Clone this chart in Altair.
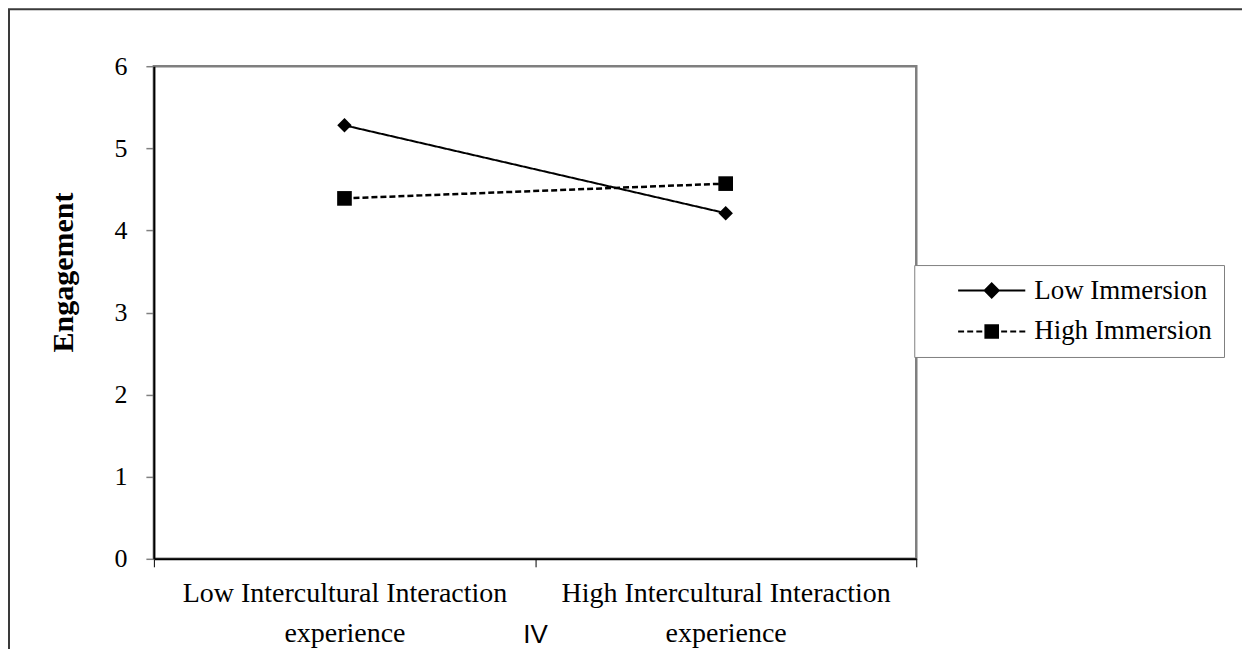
import altair as alt
import pandas as pd

# ---- data ----
conditions = ["Low Intercultural Interaction\nexperience",
              "High Intercultural Interaction\nexperience"]
series = ["Low Immersion", "High Immersion"]
low_immersion = [5.28, 4.21]
high_immersion = [4.39, 4.57]
y_ticks = [0, 1, 2, 3, 4, 5, 6]
boundary_ticks = [0, 1, 2]

rows = []
for i, c in enumerate(conditions):
    rows.append({"cond": c, "series": series[0], "value": low_immersion[i]})
    rows.append({"cond": c, "series": series[1], "value": high_immersion[i]})
df = pd.DataFrame(rows)

SERIF = "Liberation Serif"
SANS = "Liberation Sans"

x_cat = alt.X(
    "cond:N",
    sort=conditions,
    scale=alt.Scale(type="point", padding=0.5),
    axis=alt.Axis(
        orient="bottom",
        title="IV",
        titleFont=SANS, titleFontSize=26, titleFontWeight="normal", titleColor="black",
        titleX=381.5, titleY=84, titleBaseline="alphabetic", titleAlign="center",
        labelExpr="split(datum.label, '\\n')",
        labelFont=SERIF, labelFontSize=28, labelColor="black",
        labelLineHeight=40, labelPadding=21, labelAngle=0, labelLimit=1000,
        tickSize=0, ticks=False,
        domain=True, domainColor="black", domainWidth=2,
        grid=False, labelOverlap=False,
    ),
)
y_val = alt.Y(
    "value:Q",
    scale=alt.Scale(domain=[0, 6], nice=False, zero=True),
    axis=alt.Axis(
        values=y_ticks, format="d",
        title="Engagement",
        titleFont=SERIF, titleFontSize=30, titleFontWeight="bold", titleColor="black",
        titleAngle=270, titleX=-81, titleY=206, titleBaseline="alphabetic", titleAlign="center",
        labelFont=SERIF, labelFontSize=26, labelColor="black", labelPadding=19,
        tickSize=8, tickColor="#808080", tickWidth=1.5,
        domainColor="black", domainWidth=2, grid=False,
    ),
)

dash_scale = alt.Scale(domain=series, range=[[1, 0], [6, 3]])

lines = alt.Chart(df).mark_line(color="black").encode(
    x=x_cat,
    y=y_val,
    detail="series:N",
    strokeDash=alt.StrokeDash("series:N", scale=dash_scale, legend=None),
    strokeWidth=alt.StrokeWidth("series:N", scale=alt.Scale(domain=series, range=[2, 2.5]), legend=None),
)

points = alt.Chart(df).mark_point(filled=True, color="black", opacity=1).encode(
    x=x_cat,
    y=y_val,
    shape=alt.Shape("series:N", scale=alt.Scale(domain=series, range=["diamond", "square"]), legend=None),
    size=alt.Size("series:N", scale=alt.Scale(domain=series, range=[210, 215]), legend=None),
)

inner = alt.layer(lines, points)

# legend keys: line + marker (marker outline plus hatching so it reads solid)
low_sym = ("M-4.8,0H4.8"
           "M0,-1L1,0L0,1L-1,0Z"
           "M-0.25,-0.75H0.25M-0.5,-0.5H0.5M-0.75,-0.25H0.75"
           "M-0.75,0.25H0.75M-0.5,0.5H0.5M-0.25,0.75H0.25")
high_sym = ("M-4.8,0H-3.95M-3.5,0H-2.65M-2.2,0H-1.35"
            "M1.35,0H2.2M2.65,0H3.5M3.95,0H4.8"
            "M-0.9,-0.9H0.9V0.9H-0.9Z"
            "M-0.9,-0.6H0.9M-0.9,-0.3H0.9M-0.9,0H0.9M-0.9,0.3H0.9M-0.9,0.6H0.9")

legend_layer = alt.Chart(df).transform_filter("false").mark_point(
    filled=True, color="black", stroke="black", strokeWidth=2, opacity=1, size=196
).encode(
    shape=alt.Shape(
        "series:N",
        scale=alt.Scale(domain=series, range=[low_sym, high_sym]),
        legend=alt.Legend(
            title=None, orient="none", legendX=761, legendY=199,
            labelFont=SERIF, labelFontSize=27, labelColor="black", labelLimit=1000,
            symbolSize=196, symbolStrokeWidth=2, symbolOffset=52, labelOffset=29,
            padding=12, rowPadding=13,
            strokeColor="#808080", fillColor="white",
        ),
    ),
)

ticks_layer = alt.Chart(df).transform_filter("false").mark_rule().encode(
    x=alt.X(
        "tick:Q",
        scale=alt.Scale(domain=[0, 2], nice=False, zero=False),
        axis=alt.Axis(
            orient="bottom", values=boundary_ticks, labels=False, title=None,
            tickSize=8, tickColor="black", tickWidth=1, domain=False, grid=False,
        ),
    )
)

border = alt.Chart(pd.DataFrame({"frame": [0]})).mark_rect(
    filled=False, stroke="#3a3a3a", strokeWidth=2
).encode(
    x=alt.value(-145), x2=alt.value(1300), y=alt.value(-57), y2=alt.value(800)
)

chart = alt.layer(border, inner, legend_layer, ticks_layer).resolve_scale(
    x="independent", shape="independent"
).properties(
    width=763, height=493,
    background="white",
    autosize=alt.AutoSizeParams(type="none"),
    padding={"left": 146, "top": 58, "right": 326, "bottom": 90},
).configure_view(
    stroke="#7f7f7f", strokeWidth=2.5
)

chart.save("out.html", embed_options={"renderer": "svg", "actions": False})
